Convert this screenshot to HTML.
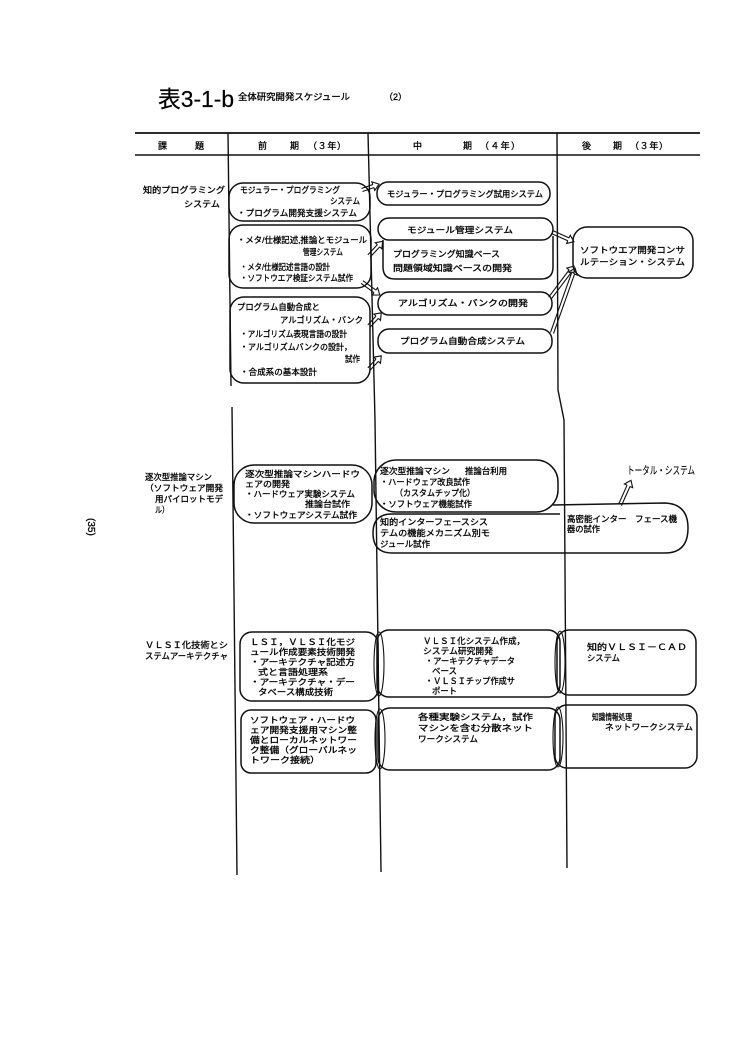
<!DOCTYPE html>
<html><head><meta charset="utf-8">
<style>
html,body{margin:0;padding:0;background:#fff;}
svg{display:block;}
text{font-family:"Liberation Sans","Noto Sans CJK JP",sans-serif;fill:#000;font-size:8.5px;stroke:#000;stroke-width:0.3;}
.b{fill:none;stroke:#111;stroke-width:1.5;}
.l{fill:none;stroke:#111;stroke-width:1.4;}
.ar line,.ar polyline{fill:none;stroke:#111;stroke-width:1.1;}
.hw{font-size:11px;stroke-width:0.1;}
</style></head>
<body>
<svg width="750" height="1054" viewBox="0 0 750 1054" xmlns="http://www.w3.org/2000/svg">
<rect width="750" height="1054" fill="#fff"/>

<!-- title -->
<text x="158" y="107" style="font-size:23px;stroke-width:0.2" textLength="76" lengthAdjust="spacingAndGlyphs">表3-1-b</text>
<text x="238" y="100" style="font-size:9px" textLength="112" lengthAdjust="spacingAndGlyphs">全体研究開発スケジュール</text>
<text x="384" y="100" style="font-size:9px">（2）</text>

<!-- header -->
<line x1="135" y1="133" x2="700" y2="133" class="l" style="stroke-width:1.8"/>
<line x1="135" y1="155" x2="700" y2="155" class="l"/>
<text x="158" y="149" style="font-size:9px">課</text>
<text x="195" y="149" style="font-size:9px">題</text>
<text x="258" y="149" style="font-size:9px">前</text>
<text x="290" y="149" style="font-size:9px">期</text>
<text x="308" y="149" style="font-size:9px" textLength="38">（３年）</text>
<text x="413" y="149" style="font-size:9px">中</text>
<text x="463" y="149" style="font-size:9px">期</text>
<text x="480" y="149" style="font-size:9px" textLength="40">（４年）</text>
<text x="582" y="149" style="font-size:9px">後</text>
<text x="613" y="149" style="font-size:9px">期</text>
<text x="630" y="149" style="font-size:9px" textLength="38">（３年）</text>

<!-- vertical column lines -->
<polyline class="l" points="228,133 231,386"/>
<polyline class="l" points="232,407 237,875"/>
<polyline class="l" points="368,133 375,420 381,872"/>
<polyline class="l" points="557,133 558,390 564,420 567,868"/>

<!-- page number -->
<text x="0" y="0" transform="translate(88,518) rotate(90)" style="font-size:10px">(35)</text>

<!-- ROW 1 label -->
<text x="143" y="193" textLength="82" lengthAdjust="spacingAndGlyphs">知的プログラミング</text>
<text x="184" y="207" textLength="36" lengthAdjust="spacingAndGlyphs">システム</text>

<!-- Box A -->
<rect class="b" x="229" y="183" width="141" height="38" rx="14"/>
<text x="240" y="193" textLength="100" lengthAdjust="spacingAndGlyphs">モジュラー・プログラミング</text>
<text x="330" y="204" textLength="30" lengthAdjust="spacingAndGlyphs">システム</text>
<text x="237" y="216" textLength="120" lengthAdjust="spacingAndGlyphs">・プログラム開発支援システム</text>

<!-- Box B -->
<rect class="b" x="229" y="225" width="142" height="63" rx="14"/>
<text x="237" y="243" textLength="130" lengthAdjust="spacingAndGlyphs">・メタ/仕様記述,推論とモジュール</text>
<text x="303" y="255" textLength="40" lengthAdjust="spacingAndGlyphs">管理システム</text>
<text x="240" y="270" textLength="90" lengthAdjust="spacingAndGlyphs">・メタ/仕様記述言語の設計</text>
<text x="240" y="281" textLength="113" lengthAdjust="spacingAndGlyphs">・ソフトウエア検証システム試作</text>

<!-- Box C -->
<rect class="b" x="230" y="297" width="140" height="86" rx="14"/>
<text x="237" y="310" textLength="83" lengthAdjust="spacingAndGlyphs">プログラム自動合成と</text>
<text x="280" y="323" textLength="83" lengthAdjust="spacingAndGlyphs">アルゴリズム・バンク</text>
<text x="240" y="337" textLength="107" lengthAdjust="spacingAndGlyphs">・アルゴリズム表現言語の設計</text>
<text x="240" y="350" textLength="112" lengthAdjust="spacingAndGlyphs">・アルゴリズムバンクの設計，</text>
<text x="345" y="362" textLength="15" lengthAdjust="spacingAndGlyphs">試作</text>
<text x="240" y="375" textLength="77" lengthAdjust="spacingAndGlyphs">・合成系の基本設計</text>

<!-- Middle row 1 -->
<rect class="b" x="377" y="182" width="173" height="23" rx="11"/>
<text x="387" y="197" textLength="156" lengthAdjust="spacingAndGlyphs">モジュラー・プログラミング試用システム</text>

<rect class="b" x="378" y="218" width="175" height="22" rx="11"/>
<text x="407" y="233" textLength="106" lengthAdjust="spacingAndGlyphs">モジュール管理システム</text>
<path class="b" d="M383,240 L383,267 Q383,279 395,279 L541,279 Q553,279 553,267 L553,236"/>
<text x="393" y="257" textLength="107" lengthAdjust="spacingAndGlyphs">プログラミング知識ベース</text>
<text x="393" y="271" textLength="119" lengthAdjust="spacingAndGlyphs">問題領域知識ベースの開発</text>

<rect class="b" x="378" y="292" width="174" height="23" rx="11"/>
<text x="398" y="306" textLength="130" lengthAdjust="spacingAndGlyphs">アルゴリズム・バンクの開発</text>

<rect class="b" x="378" y="329" width="174" height="24" rx="11"/>
<text x="400" y="344" textLength="125" lengthAdjust="spacingAndGlyphs">プログラム自動合成システム</text>

<!-- R1 -->
<rect class="b" x="573" y="227" width="120" height="51" rx="14"/>
<text x="580" y="253" textLength="105" lengthAdjust="spacingAndGlyphs">ソフトウエア開発コンサ</text>
<text x="580" y="265" textLength="105" lengthAdjust="spacingAndGlyphs">ルテーション・システム</text>

<!-- arrows row 1 -->
<g class="ar" transform="translate(362,190) rotate(-19)"><line x1="0" y1="-1.6" x2="12" y2="-1.6"/><line x1="0" y1="1.6" x2="12" y2="1.6"/><polyline points="12,-1.6 12,-4.5 18,0 12,4.5 12,1.6"/></g>
<g class="ar" transform="translate(369,256) rotate(-47)"><line x1="0" y1="-1.6" x2="14" y2="-1.6"/><line x1="0" y1="1.6" x2="14" y2="1.6"/><polyline points="14,-1.6 14,-4.5 20,0 14,4.5 14,1.6"/></g>
<g class="ar" transform="translate(362,282) rotate(36)"><line x1="0" y1="-1.6" x2="16" y2="-1.6"/><line x1="0" y1="1.6" x2="16" y2="1.6"/><polyline points="16,-1.6 16,-4.5 22,0 16,4.5 16,1.6"/></g>
<g class="ar" transform="translate(369,326) rotate(-47)"><line x1="0" y1="-1.6" x2="12" y2="-1.6"/><line x1="0" y1="1.6" x2="12" y2="1.6"/><polyline points="12,-1.6 12,-4.5 18,0 12,4.5 12,1.6"/></g>
<g class="ar" transform="translate(369,369) rotate(-47)"><line x1="0" y1="-1.6" x2="12" y2="-1.6"/><line x1="0" y1="1.6" x2="12" y2="1.6"/><polyline points="12,-1.6 12,-4.5 18,0 12,4.5 12,1.6"/></g>
<g class="ar" transform="translate(552,232) rotate(24)"><line x1="0" y1="-1.6" x2="18" y2="-1.6"/><line x1="0" y1="1.6" x2="18" y2="1.6"/><polyline points="18,-1.6 18,-4.5 24,0 18,4.5 18,1.6"/></g>
<g class="ar" transform="translate(550,298) rotate(-53)"><line x1="0" y1="-1.6" x2="34" y2="-1.6"/><line x1="0" y1="1.6" x2="34" y2="1.6"/><polyline points="34,-1.6 34,-4.5 40,0 34,4.5 34,1.6"/></g>
<g class="ar" transform="translate(552,333) rotate(-70.5)"><line x1="0" y1="-1.6" x2="63" y2="-1.6"/><line x1="0" y1="1.6" x2="63" y2="1.6"/><polyline points="63,-1.6 63,-4.5 69,0 63,4.5 63,1.6"/></g>

<!-- ROW 2 label -->
<text x="145" y="480" textLength="67" lengthAdjust="spacingAndGlyphs">逐次型推論マシン</text>
<text x="145" y="491" textLength="78" lengthAdjust="spacingAndGlyphs">（ソフトウェア開発</text>
<text x="155" y="502" textLength="68" lengthAdjust="spacingAndGlyphs">用パイロットモデ</text>
<text x="155" y="513" textLength="14" lengthAdjust="spacingAndGlyphs">ル）</text>

<!-- Row 2 left box -->
<rect class="b" x="234" y="465" width="138" height="58" rx="20"/>
<text x="245" y="477" textLength="115" lengthAdjust="spacingAndGlyphs">逐次型推論マシンハードウ</text>
<text x="245" y="487" textLength="45" lengthAdjust="spacingAndGlyphs">ェアの開発</text>
<text x="245" y="497" textLength="110" lengthAdjust="spacingAndGlyphs">・ハードウェア実験システム</text>
<text x="305" y="507" textLength="45" lengthAdjust="spacingAndGlyphs">推論台試作</text>
<text x="245" y="518" textLength="112" lengthAdjust="spacingAndGlyphs">・ソフトウェアシステム試作</text>

<!-- Row 2 middle upper -->
<rect class="b" x="374" y="460" width="184" height="52" rx="22"/>
<text x="380" y="474" textLength="70" lengthAdjust="spacingAndGlyphs">逐次型推論マシン</text>
<text x="465" y="474" textLength="42" lengthAdjust="spacingAndGlyphs">推論台利用</text>
<text x="380" y="485" textLength="90" lengthAdjust="spacingAndGlyphs">・ハードウェア改良試作</text>
<text x="395" y="496" textLength="80" lengthAdjust="spacingAndGlyphs">（カスタムチップ化）</text>
<text x="380" y="507" textLength="92" lengthAdjust="spacingAndGlyphs">・ソフトウェア機能試作</text>

<!-- Row 2 lower + right shape -->
<path class="b" d="M560,514 L392,514 Q373,514 373,533 Q373,553 392,553 L665,553 Q688,553 688,528 Q688,504 665,503 L553,505"/>
<text x="380" y="525" textLength="108" lengthAdjust="spacingAndGlyphs">知的インターフェースシス</text>
<text x="380" y="536" textLength="110" lengthAdjust="spacingAndGlyphs">テムの機能メカニズム別モ</text>
<text x="380" y="547" textLength="50" lengthAdjust="spacingAndGlyphs">ジュール試作</text>
<text x="567" y="522" textLength="110" lengthAdjust="spacingAndGlyphs">高密能インター　フェース機</text>
<text x="567" y="532" textLength="33" lengthAdjust="spacingAndGlyphs">器の試作</text>

<text x="627" y="474" class="hw" textLength="68" lengthAdjust="spacingAndGlyphs">トータル・システム</text>
<g class="ar" transform="translate(620,505) rotate(-66)"><line x1="0" y1="-1.6" x2="21" y2="-1.6"/><line x1="0" y1="1.6" x2="21" y2="1.6"/><polyline points="21,-1.6 21,-4.5 27,0 21,4.5 21,1.6"/></g>

<!-- ROW 3 label -->
<text x="145" y="648" textLength="83" lengthAdjust="spacingAndGlyphs">ＶＬＳＩ化技術とシ</text>
<text x="145" y="659" textLength="83" lengthAdjust="spacingAndGlyphs">ステムアーキテクチャ</text>

<!-- L1 -->
<rect class="b" x="240" y="632" width="138" height="69" rx="12"/>
<text x="250" y="645" textLength="105" lengthAdjust="spacingAndGlyphs">ＬＳＩ，ＶＬＳＩ化モジ</text>
<text x="250" y="655" textLength="105" lengthAdjust="spacingAndGlyphs">ュール作成要素技術開発</text>
<text x="250" y="665" textLength="105" lengthAdjust="spacingAndGlyphs">・アーキテクチャ記述方</text>
<text x="258" y="675" textLength="70" lengthAdjust="spacingAndGlyphs">式と言語処理系</text>
<text x="250" y="685" textLength="105" lengthAdjust="spacingAndGlyphs">・アーキテクチャ・デー</text>
<text x="258" y="695" textLength="75" lengthAdjust="spacingAndGlyphs">タベース構成技術</text>

<!-- L2 -->
<rect class="b" x="241" y="710" width="135" height="63" rx="10"/>
<text x="250" y="723" textLength="105" lengthAdjust="spacingAndGlyphs">ソフトウェア・ハードウ</text>
<text x="250" y="733" textLength="107" lengthAdjust="spacingAndGlyphs">ェア開発支援用マシン整</text>
<text x="250" y="743" textLength="107" lengthAdjust="spacingAndGlyphs">備とローカルネットワー</text>
<text x="250" y="753" textLength="107" lengthAdjust="spacingAndGlyphs">ク整備（グローバルネッ</text>
<text x="250" y="763" textLength="70" lengthAdjust="spacingAndGlyphs">トワーク接続）</text>

<!-- M5 -->
<rect class="b" x="377" y="630" width="183" height="67" rx="12"/>
<ellipse class="b" cx="379" cy="664" rx="5" ry="32" style="stroke-width:1.1"/>
<text x="423" y="644" textLength="102" lengthAdjust="spacingAndGlyphs">ＶＬＳＩ化システム作成，</text>
<text x="423" y="654" textLength="70" lengthAdjust="spacingAndGlyphs">システム研究開発</text>
<text x="425" y="664" textLength="90" lengthAdjust="spacingAndGlyphs">・アーキテクチャデータ</text>
<text x="432" y="674" textLength="25" lengthAdjust="spacingAndGlyphs">ベース</text>
<text x="425" y="684" textLength="90" lengthAdjust="spacingAndGlyphs">・ＶＬＳＩチップ作成サ</text>
<text x="432" y="694" textLength="25" lengthAdjust="spacingAndGlyphs">ポート</text>

<!-- M6 -->
<rect class="b" x="378" y="708" width="182" height="62" rx="12"/>
<ellipse class="b" cx="380" cy="739" rx="5" ry="30" style="stroke-width:1.1"/>
<text x="418" y="720" textLength="115" lengthAdjust="spacingAndGlyphs">各種実験システム，試作</text>
<text x="418" y="731" textLength="115" lengthAdjust="spacingAndGlyphs">マシンを含む分散ネット</text>
<text x="418" y="742" textLength="60" lengthAdjust="spacingAndGlyphs">ワークシステム</text>

<!-- R2 -->
<rect class="b" x="557" y="630" width="139" height="65" rx="12"/>
<ellipse class="b" cx="560" cy="662" rx="5" ry="31" style="stroke-width:1.1"/>
<text x="587" y="650" textLength="100" lengthAdjust="spacingAndGlyphs">知的ＶＬＳＩ－ＣＡＤ</text>
<text x="587" y="661" textLength="33" lengthAdjust="spacingAndGlyphs">システム</text>

<!-- R3 -->
<rect class="b" x="555" y="705" width="142" height="63" rx="12"/>
<ellipse class="b" cx="558" cy="737" rx="5" ry="30" style="stroke-width:1.1"/>
<text x="592" y="720" textLength="40" lengthAdjust="spacingAndGlyphs">知識情報処理</text>
<text x="605" y="730" textLength="88" lengthAdjust="spacingAndGlyphs">ネットワークシステム</text>

</svg>
</body></html>
